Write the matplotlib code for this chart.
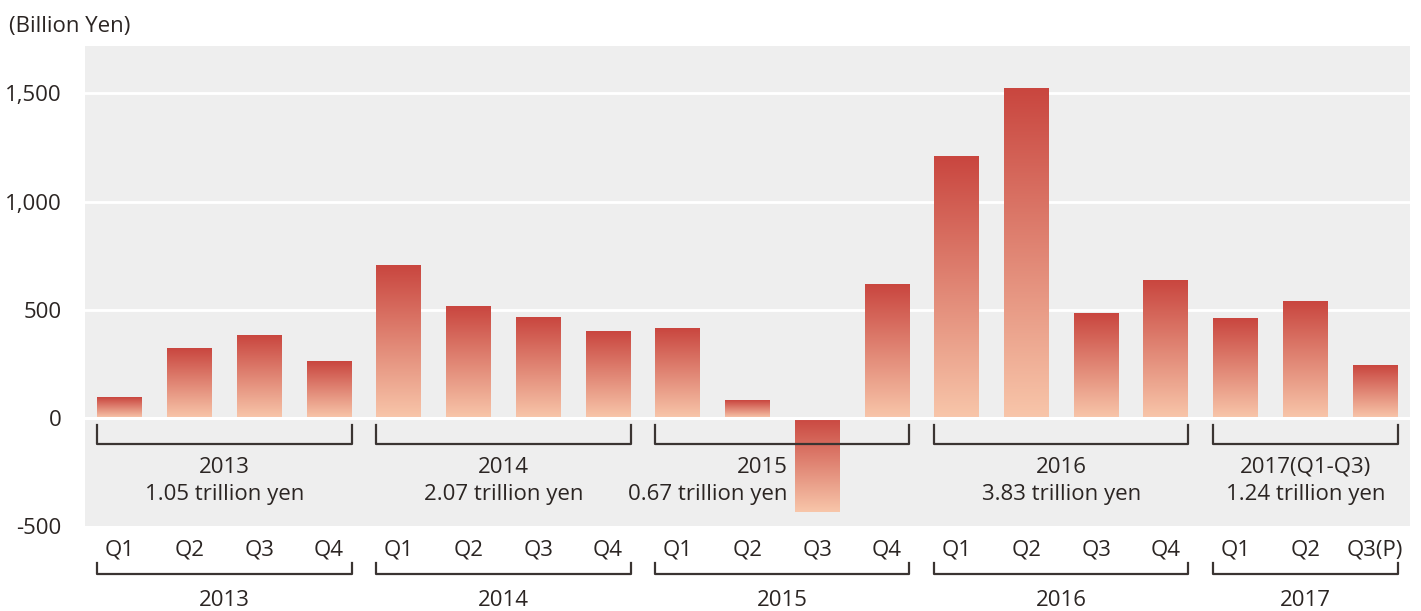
import numpy as np
import matplotlib.pyplot as plt
import matplotlib.transforms as mtransforms
from matplotlib.colors import LinearSegmentedColormap
from matplotlib.ticker import FuncFormatter

plt.rcParams['font.family'] = ['Open Sans', 'DejaVu Sans']

# Daten: Quartalswerte in Mrd. Yen
years = ['2013', '2014', '2015', '2016', '2017']
quarters = [['Q1', 'Q2', 'Q3', 'Q4'], ['Q1', 'Q2', 'Q3', 'Q4'], ['Q1', 'Q2', 'Q3', 'Q4'],
            ['Q1', 'Q2', 'Q3', 'Q4'], ['Q1', 'Q2', 'Q3(P)']]
values = [93, 319, 380, 262,
          706, 517, 466, 402,
          416, 80, -435, 618,
          1208, 1525, 481, 634,
          462, 537, 241]
year_titles = ['2013', '2014', '2015', '2016', '2017(Q1-Q3)']
year_totals = ['1.05 trillion yen', '2.07 trillion yen', '0.67 trillion yen',
               '3.83 trillion yen', '1.24 trillion yen']
yticks = [-500, 0, 500, 1000, 1500]

txt = '#2b2523'
fs = 16
fig = plt.figure(figsize=(14.21, 6.11), dpi=100)
ax = fig.add_axes([0.0598, 0.139, 0.9325, 0.7857])
ax.set_facecolor('#eeeeee')
for s in ax.spines.values():
    s.set_visible(False)

for t in [500, 1000, 1500]:
    ax.axhline(t, color='white', lw=2, zorder=1)
ax.axhline(0, color='white', lw=2.2, zorder=4)

cmap = LinearSegmentedColormap.from_list('rot', ['#f8c6aa', '#c9463f'])
grad = np.linspace(0, 1, 256).reshape(-1, 1)
w = 0.645
for i, v in enumerate(values):
    lo, hi = min(0, v), max(0, v)
    ax.imshow(grad, extent=(i - w / 2, i + w / 2, lo, hi), origin='lower',
              cmap=cmap, aspect='auto', zorder=2)
ax.set_xlim(-0.5, len(values) - 0.5)
ax.set_ylim(-490, 1719)

ax.set_yticks(yticks)
ax.yaxis.set_major_formatter(FuncFormatter(lambda x, p: f'{int(x):,}'))
ax.tick_params(axis='y', length=0, pad=17, labelsize=fs, labelcolor=txt)
ax.set_xticks([])

trans = mtransforms.blended_transform_factory(ax.transData, ax.transAxes)
start = 0
for k, qs in enumerate(quarters):
    n = len(qs)
    xl, xr = start - w / 2, start + n - 1 + w / 2
    # Klammer im Diagramm
    ax.plot([xl, xl, xr, xr], [-31, -121, -121, -31], color='#3a3432', lw=1.6, zorder=3)
    if k == 2:
        xc, ha = start + 2 - w / 2 - 0.1, 'right'
    else:
        xc, ha = (xl + xr) / 2, 'center'
    ax.text(xc, -228, year_titles[k], ha=ha, va='center', fontsize=fs, color=txt, zorder=3)
    ax.text(xc, -355, year_totals[k], ha=ha, va='center', fontsize=fs, color=txt, zorder=3)
    # Beschriftung unter dem Diagramm
    for j, q in enumerate(qs):
        ax.text(start + j, -0.049, q, transform=trans, ha='center', va='center',
                fontsize=fs, color=txt)
    ax.plot([xl, xl, xr, xr], [-0.077, -0.1, -0.1, -0.077], transform=trans,
            color='#3a3432', lw=1.6, clip_on=False)
    ax.text((xl + xr) / 2, -0.155, years[k], transform=trans, ha='center', va='center',
            fontsize=fs, color=txt)
    start += n

fig.text(0.006, 0.956, '(Billion Yen)', ha='left', va='center', fontsize=fs, color=txt)

fig.savefig('out.png', dpi=100)
